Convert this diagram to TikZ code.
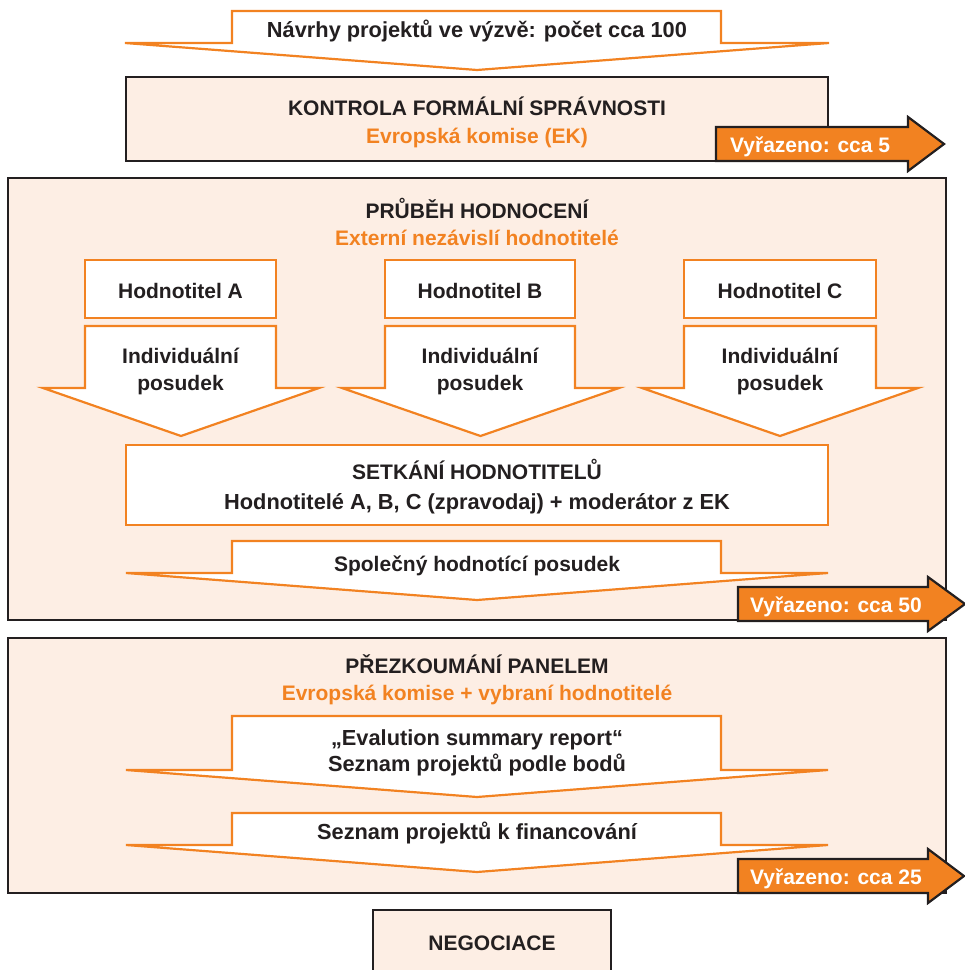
\documentclass[tikz,border=0pt]{standalone}
\usepackage{fontspec}
\setmainfont{Liberation Sans}
\begin{document}
\definecolor{fsorange}{HTML}{F28221}
\definecolor{fspeach}{HTML}{FDEEE4}
\definecolor{fsink}{HTML}{231F20}
\tikzset{
  stagebox/.style={draw=fsink, line width=2.5pt, fill=fspeach},
  innerbox/.style={draw=fsorange, line width=2.2pt, fill=white},
  flowarrow/.style={draw=fsorange, line width=2.2pt, fill=white, line join=miter},
  dropbox/.style={draw=fsink, line width=2.2pt, fill=fsorange, line join=miter},
  lbl/.style={anchor=base, inner sep=0pt, text=fsink, font=\fontsize{21}{25}\selectfont\bfseries},
  biglbl/.style={lbl, font=\fontsize{21.8}{26}\selectfont\bfseries},
  sublbl/.style={lbl, text=fsorange},
  droplbl/.style={anchor=base west, inner sep=0pt, text=white, font=\fontsize{21}{25}\selectfont\bfseries}
}
% downward block arrow: #1 left, #2 right, #3 top, #4 wing y, #5 wing left, #6 wing right, #7 tip y
\newcommand\flowdown[7]{%
  \draw[flowarrow] (#1,#3) -- (#2,#3) -- (#2,#4) -- (#6,#4) -- ({(#5+#6)/2},#7)
    -- (#5,#4) -- (#1,#4) -- cycle;}
% rightward "dropped" arrow: #1 left, #2 top, #3 bottom, #4 head x, #5 head top, #6 head bottom, #7 tip x
\newcommand\dropout[7]{%
  \draw[dropbox] (#1,#2) -- (#4,#2) -- (#4,#5) -- (#7,{(#2+#3)/2}) -- (#4,#6)
    -- (#4,#3) -- (#1,#3) -- cycle;}
\begin{tikzpicture}[x=1pt,y=-1pt]
\useasboundingbox (0,0) rectangle (965,970);
\clip (0,0) rectangle (965,970);

% stage frames
\draw[stagebox] (126,77) rectangle (828,161);
\draw[stagebox] (8,178) rectangle (946,620);
\draw[stagebox] (8,638) rectangle (946,893);
\draw[stagebox] (373,910) rectangle (611,985);

% incoming proposals
\flowdown{232}{721}{11}{43}{125}{829}{70}
\node[biglbl] (calls) at (477,37) {Návrhy projektů ve výzvě: počet cca 100};

% formal check
\node[lbl] (formal) at (477,115) {KONTROLA FORMÁLNÍ SPRÁVNOSTI};
\node[sublbl] (formalby) at (477,143) {Evropská komise (EK)};

% evaluation
\node[lbl] (eval) at (477,218) {PRŮBĚH HODNOCENÍ};
\node[sublbl] (evalby) at (477,245) {Externí nezávislí hodnotitelé};

\draw[innerbox] (85,260) rectangle (276,318);
\draw[innerbox] (385,260) rectangle (575,318);
\draw[innerbox] (684,260) rectangle (876,318);
\node[lbl] (evA) at (180.5,298) {Hodnotitel A};
\node[lbl] (evB) at (480,298) {Hodnotitel B};
\node[lbl] (evC) at (780,298) {Hodnotitel C};

\flowdown{85}{276}{326}{388}{43}{319}{436}
\flowdown{385}{575}{326}{388}{342}{619}{436}
\flowdown{684}{876}{326}{388}{642}{918}{436}
\foreach \cx/\nm in {180.5/A,480/B,780/C}{
  \node[lbl] (indiv\nm) at (\cx,363) {Individuální};
  \node[lbl] (posud\nm) at (\cx,390) {posudek};
}

\draw[innerbox] (126,445) rectangle (828,525);
\node[lbl] (meet) at (477,479) {SETKÁNÍ HODNOTITELŮ};
\node[biglbl] (meetwho) at (477,509) {Hodnotitelé A, B, C (zpravodaj) + moderátor z EK};

\flowdown{232}{721}{541}{573}{126}{828}{600}
\node[lbl] (joint) at (477,571) {Společný hodnotící posudek};

% panel review
\node[lbl] (panel) at (477,673) {PŘEZKOUMÁNÍ PANELEM};
\node[sublbl] (panelby) at (477,700) {Evropská komise + vybraní hodnotitelé};

\flowdown{232}{721}{716}{770}{126}{828}{797}
\node[biglbl] (esr) at (477,745) {„Evalution summary report“};
\node[biglbl] (ranked) at (477,771) {Seznam projektů podle bodů};

\flowdown{232}{721}{813}{845}{126}{828}{872}
\node[biglbl] (funded) at (477,839) {Seznam projektů k financování};

% negotiation
\node[lbl] (nego) at (492,950) {NEGOCIACE};

% rejected counts
\dropout{716}{127}{161}{908}{117}{171}{944}
\node[droplbl] (drop1) at (730,152) {Vyřazeno: cca 5};
\dropout{738}{587}{621}{928}{577}{631}{965}
\node[droplbl] (drop2) at (750,612) {Vyřazeno: cca 50};
\dropout{738}{859}{893}{928}{849}{903}{964}
\node[droplbl] (drop3) at (750,884) {Vyřazeno: cca 25};
\end{tikzpicture}
\end{document}
